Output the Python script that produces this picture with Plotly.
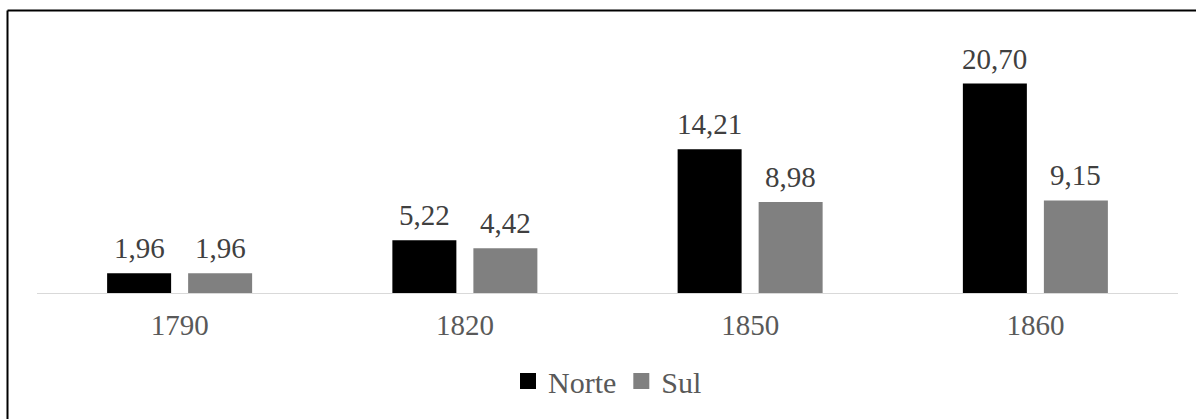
import plotly.graph_objects as go

categories = ["1790", "1820", "1850", "1860"]
norte = [1.96, 5.22, 14.21, 20.70]
sul = [1.96, 4.42, 8.98, 9.15]
series_names = ["Norte", "Sul"]
series_colors = ["#000000", "#808080"]

W, H = 1196, 419
ml, mr, mt, mb = 37, 18, 40, 122
bargap = 0.432
bargroupgap = 0.21
FONT = "Liberation Serif"

fig = go.Figure()
for name, vals, col in zip(series_names, [norte, sul], series_colors):
    fig.add_trace(go.Bar(x=list(range(len(categories))), y=vals, name=name,
                         marker=dict(color=col, line=dict(width=0)),
                         showlegend=False, hoverinfo="skip"))
    fig.add_trace(go.Scatter(x=[None], y=[None], mode="markers", name=name,
                             marker=dict(symbol="square", size=16, color=col),
                             showlegend=True))

# data labels above bars
slot = (1 - bargap) / 2
annotations = []
for j, vals in enumerate([norte, sul]):
    for i, v in enumerate(vals):
        annotations.append(dict(x=i + (j - 0.5) * slot, y=v, xref="x", yref="y",
                                text=f"{v:.2f}".replace(".", ","), showarrow=False,
                                yanchor="bottom", yshift=7,
                                font=dict(family=FONT, size=29, color="#404040")))

pw = W - ml - mr
ph = 254.0
bottom_px = mt + ph
x_left = (7.5 - ml) / pw
y_top = (bottom_px - 10.5) / ph
shapes = [
    dict(type="line", xref="paper", yref="paper", x0=x_left, x1=(W - ml) / pw + 0.01,
         y0=y_top, y1=y_top, line=dict(color="#000000", width=2)),
    dict(type="line", xref="paper", yref="paper", x0=x_left, x1=x_left,
         y0=y_top, y1=-(mb + 10) / ph, line=dict(color="#000000", width=2)),
]

fig.update_layout(
    width=W, height=H,
    margin=dict(l=ml, r=mr, t=mt, b=mb, pad=0),
    paper_bgcolor="white", plot_bgcolor="white",
    barmode="group", bargap=bargap, bargroupgap=bargroupgap,
    font=dict(family=FONT, size=29, color="#595959"),
    xaxis=dict(tickmode="array", tickvals=list(range(len(categories))), ticktext=categories,
               range=[-0.5, len(categories) - 0.5], showgrid=False, zeroline=False,
               showline=True, linecolor="#d9d9d9", linewidth=1, ticks="",
               tickfont=dict(family=FONT, size=29, color="#595959"), ticklabelstandoff=6),
    yaxis=dict(range=[0, 25], visible=False),
    legend=dict(orientation="h", x=0.5, xanchor="center", y=-0.245, yanchor="top",
                font=dict(family=FONT, size=30, color="#595959"),
                itemwidth=30, tracegroupgap=0),
    annotations=annotations,
    shapes=shapes,
)

fig.write_html("out.html")
